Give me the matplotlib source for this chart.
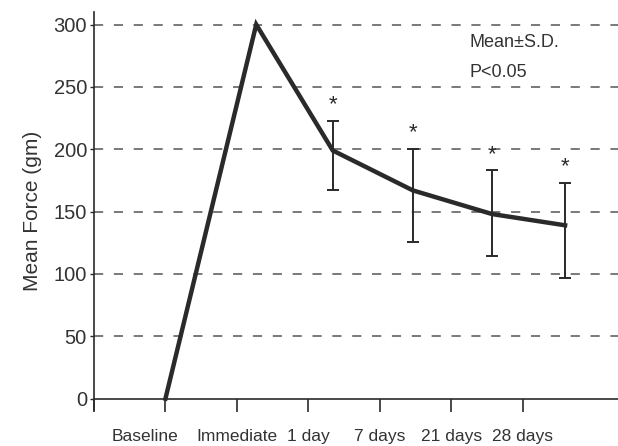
import matplotlib.pyplot as plt
import matplotlib.transforms as mtransforms

plt.rcParams['font.family'] = ['Liberation Sans', 'DejaVu Sans']

# categories on the x axis
categories = ['Baseline', 'Immediate', '1 day', '7 days', '21 days', '28 days']
x_points = [1.0, 2.27, 3.34, 4.46, 5.57, 6.59]
# mean force (gm)
mean_force = [0, 300, 199, 167, 148, 139]
# error bar ends (mean - SD, mean + SD) for the follow-up points
sd_low = [167, 126, 114, 97]
sd_high = [223, 200, 183, 173]

yticks = [0, 50, 100, 150, 200, 250, 300]

ink = '#2a2a2a'
txt = '#333333'

fig = plt.figure(figsize=(6.18, 4.46), dpi=100)
ax = fig.add_axes([0.152, 0.081, 0.848, 0.892])

# dashed horizontal grid
for v in yticks[1:]:
    ax.axhline(v, color='#555555', lw=1.1, ls=(0, (6, 7)), zorder=1)

# main line
ax.plot(x_points, mean_force, color=ink, lw=3.2, solid_joinstyle='miter', zorder=3)

# error bars and stars for the follow-up points
ex = x_points[2:]
em = mean_force[2:]
lower = [m - lo for m, lo in zip(em, sd_low)]
upper = [hi - m for m, hi in zip(em, sd_high)]
ax.errorbar(ex, em, yerr=[lower, upper], fmt='none', ecolor=ink,
            elinewidth=1.4, capsize=4, capthick=1.4, zorder=2)
for xi, top in zip(ex, sd_high):
    ax.annotate('*', (xi, top), xytext=(0, 4), textcoords='offset points',
                ha='center', va='bottom', fontsize=16, color=ink)

ax.text(5.25, 282, 'Mean\u00b1S.D.', fontsize=13, color=txt)
ax.text(5.25, 258, 'P<0.05', fontsize=13, color=txt)

# axes
ax.set_xlim(0, 7.33)
ax.set_ylim(-9, 310)
ax.spines['top'].set_visible(False)
ax.spines['right'].set_visible(False)
ax.spines['bottom'].set_position(('data', 0))
ax.spines['left'].set_color(ink)
ax.spines['bottom'].set_color(ink)
ax.spines['left'].set_linewidth(1.2)
ax.spines['bottom'].set_linewidth(1.2)

ax.set_yticks(yticks)
ax.set_yticklabels([str(v) for v in yticks], fontsize=14.5, color=txt)
ax.tick_params(axis='y', length=3, width=1, color=ink, pad=2)

ax.set_xticks([0, 1, 2, 3, 4, 5, 6])
ax.set_xticklabels([''] + categories, fontsize=12.5, color=txt)
ax.tick_params(axis='x', direction='out', length=9, width=1.2, color=ink, pad=13)
# the Baseline label sits a little left of its tick in the original
lab = ax.get_xticklabels()[1]
lab.set_transform(lab.get_transform() +
                  mtransforms.ScaledTranslation(-0.2, 0, fig.dpi_scale_trans))

ax.set_ylabel('Mean Force (gm)', fontsize=15, color=txt, labelpad=8)

fig.savefig('out.png', dpi=100)
